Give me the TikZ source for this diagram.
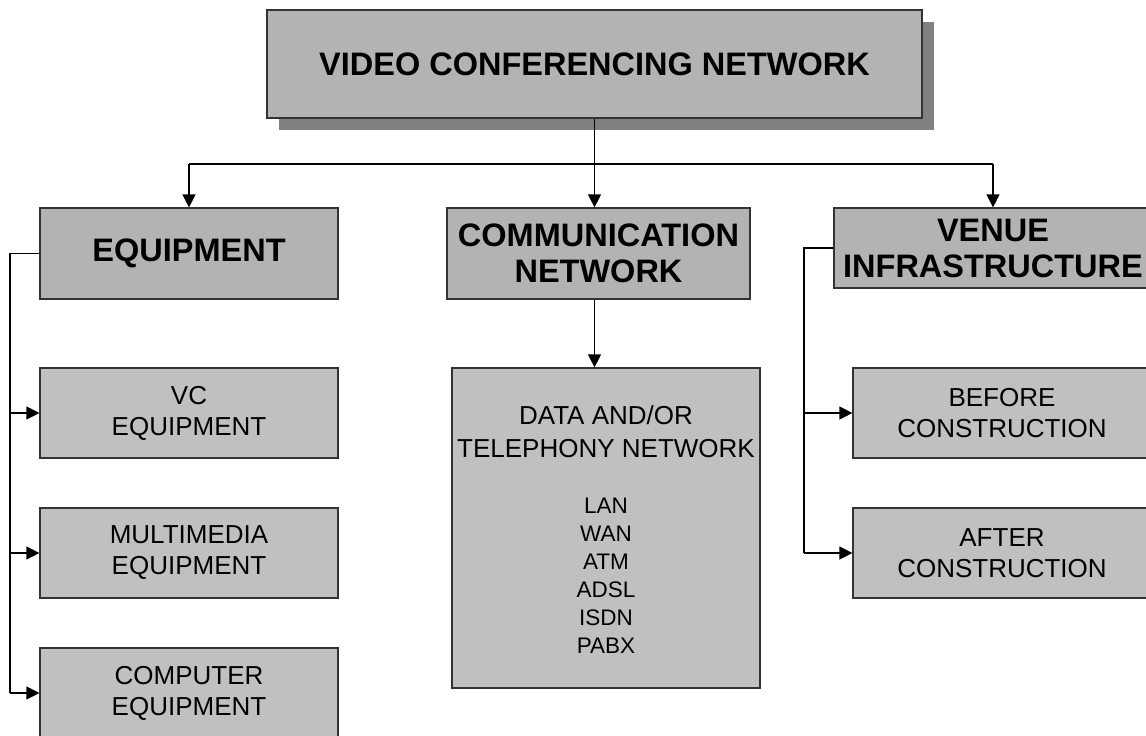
\documentclass[tikz,border=0pt]{standalone}
\usepackage{fontspec}
\setmainfont{Liberation Sans}
\usetikzlibrary{arrows.meta,shadows}
\definecolor{headfill}{HTML}{B3B3B3}
\definecolor{leaffill}{HTML}{C0C0C0}
\definecolor{shadowgray}{HTML}{808080}
\definecolor{edgegray}{HTML}{333333}

\begin{document}
\begin{tikzpicture}[x=1pt,y=-1pt,
  box/.style={draw=edgegray, line width=1.2pt, inner sep=0pt, align=center, text=black},
  headbox/.style={box, fill=headfill, font=\fontsize{32.5}{36}\selectfont\bfseries},
  leafbox/.style={box, fill=leaffill, font=\fontsize{26}{31}\selectfont},
  listtext/.style={anchor=base, inner sep=0pt, text=black},
  link/.style={line width=1.3pt, black},
  arr/.style={link, -{Triangle[length=13pt,width=13pt]}},
]
\useasboundingbox (0,0) rectangle (1146,736);

% root of the tree, with its drop shadow
\node[headbox, minimum width=655pt, minimum height=108pt,
      drop shadow={shadow xshift=12pt, shadow yshift=-12pt, fill=shadowgray, opacity=1}]
  (top) at (594.5,64) {\raisebox{-2.5pt}{VIDEO CONFERENCING NETWORK}};

% second level
\node[headbox, minimum width=298pt, minimum height=91pt] (equip) at (189,253.5) {\raisebox{-2pt}{EQUIPMENT}};
\node[headbox, minimum width=303pt, minimum height=91pt] (comm) at (598.5,253.5) {COMMUNICATION\\NETWORK};
\node[headbox, minimum width=318pt, minimum height=80pt] (venue) at (993,248) {VENUE\\INFRASTRUCTURE};

% equipment branch
\node[leafbox, minimum width=298pt, minimum height=90pt] (vc) at (189,413) {VC\\EQUIPMENT};
\node[leafbox, minimum width=298pt, minimum height=90pt] (mm) at (189,553) {MULTIMEDIA\\EQUIPMENT};
\node[leafbox, minimum width=298pt, minimum height=90pt] (comp) at (189,693) {COMPUTER\\EQUIPMENT};

% network branch
\node[leafbox, minimum width=308pt, minimum height=320pt] (data) at (606,528) {};
\node[listtext, font=\fontsize{26}{31}\selectfont] (d1) at (606,424.5) {DATA AND/OR};
\node[listtext, font=\fontsize{26}{31}\selectfont] (d2) at (606,457.5) {TELEPHONY NETWORK};
\foreach \name/\lbl/\yy in {lan/LAN/513, wan/WAN/541, atm/ATM/569, adsl/ADSL/597, isdn/ISDN/625, pabx/PABX/653}
  \node[listtext, font=\fontsize{22.5}{28}\selectfont] (\name) at (606,\yy) {\lbl};

% venue branch
\node[leafbox, minimum width=298pt, minimum height=90pt] (before) at (1002,413) {BEFORE\\CONSTRUCTION};
\node[leafbox, minimum width=298pt, minimum height=90pt] (after) at (1002,553) {AFTER\\CONSTRUCTION};

% connectors from the root
\coordinate (bus) at (594.5,164);
\draw[link] (equip.north |- bus) -- (venue.north |- bus);
\draw[arr] (top.south) -- (top.south |- comm.north);
\draw[arr] (equip.north |- bus) -- (equip.north);
\draw[arr] (venue.north |- bus) -- (venue.north);

% network to its contents, on the same vertical as the root
\draw[arr] (top.south |- comm.south) -- (top.south |- data.north);

% equipment rail
\coordinate (lrail) at (10,253.5);
\draw[link] (equip.west) -- (lrail) -- (lrail |- comp.west);
\draw[arr] (lrail |- vc.west) -- (vc.west);
\draw[arr] (lrail |- mm.west) -- (mm.west);
\draw[arr] (lrail |- comp.west) -- (comp.west);

% venue rail
\coordinate (rrail) at (804,248);
\draw[link] (venue.west) -- (rrail) -- (rrail |- after.west);
\draw[arr] (rrail |- before.west) -- (before.west);
\draw[arr] (rrail |- after.west) -- (after.west);
\end{tikzpicture}
\end{document}
